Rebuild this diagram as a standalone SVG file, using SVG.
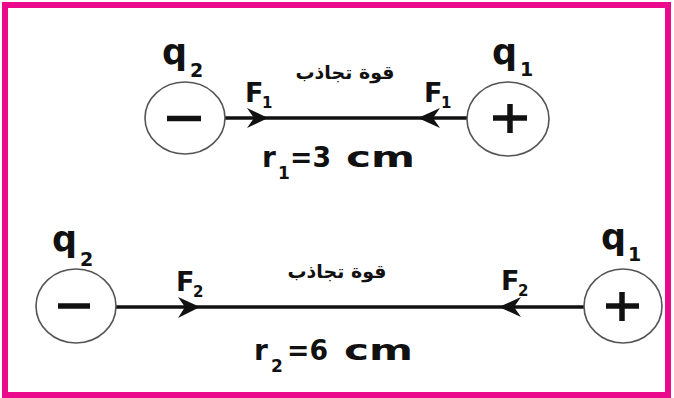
<svg xmlns="http://www.w3.org/2000/svg" width="674" height="398" viewBox="0 0 674 398">
<style>
.frame{fill:none;stroke:#ec0a8c;stroke-width:6}
.charge{fill:#fff;stroke:#555;stroke-width:1.6}
.sign{stroke:#111;stroke-width:5.5;stroke-linecap:butt}
.wire{stroke:#111;stroke-width:3.5}
.head{fill:#111}
.t{font-family:"DejaVu Sans","Liberation Sans",sans-serif;font-weight:bold;fill:#111}
.q{font-size:35px}
.qs{font-size:19px}
.f{font-size:27px}
.fs{font-size:15px}
.r{font-size:28px}
.rs{font-size:17px}
.ar{font-size:19px}
</style>
<rect class="frame" x="5" y="5" width="663" height="390"/>
<g id="connectors">
<line class="wire" x1="225" y1="118" x2="467" y2="118"/>
<path class="head" d="M268,118 L247,108 L254,118 L247,128 Z"/>
<path class="head" d="M418,118 L440,108 L433,118 L440,128 Z"/>
<line class="wire" x1="116" y1="307" x2="584" y2="307"/>
<path class="head" d="M200,307 L178,297 L185,307 L178,318 Z"/>
<path class="head" d="M499,307 L521,297 L514,307 L521,317 Z"/>
</g>
<g id="q2-top">
<ellipse class="charge" cx="185" cy="118" rx="40" ry="36"/>
<line class="sign" x1="167" y1="118.5" x2="201" y2="118.5"/>
<text class="t q" x="162" y="64">q</text>
<text class="t qs" x="190" y="77">2</text>
</g>
<g id="q1-top">
<ellipse class="charge" cx="508" cy="119" rx="41" ry="37"/>
<line class="sign" x1="493" y1="118" x2="527" y2="118"/>
<line class="sign" x1="510" y1="104" x2="510" y2="133"/>
<text class="t q" x="492" y="64">q</text>
<text class="t qs" x="520" y="76">1</text>
</g>
<g id="q2-bottom">
<ellipse class="charge" cx="76" cy="306" rx="40" ry="37"/>
<line class="sign" x1="58" y1="306" x2="90" y2="306"/>
<text class="t q" x="52" y="251">q</text>
<text class="t qs" x="80" y="266">2</text>
</g>
<g id="q1-bottom">
<ellipse class="charge" cx="623" cy="306" rx="39" ry="37"/>
<line class="sign" x1="606" y1="306" x2="639" y2="306"/>
<line class="sign" x1="622" y1="292" x2="622" y2="321"/>
<text class="t q" x="601" y="249">q</text>
<text class="t qs" x="628" y="261">1</text>
</g>
<g id="labels">
<text class="t f" x="245" y="102">F</text>
<text class="t fs" x="262" y="108">1</text>
<text class="t f" x="424" y="102">F</text>
<text class="t fs" x="441" y="108">1</text>
<text class="t f" x="176" y="291">F</text>
<text class="t fs" x="193" y="297">2</text>
<text class="t f" x="501" y="290">F</text>
<text class="t fs" x="518" y="296">2</text>
<text class="t ar" x="345" y="79" text-anchor="middle" direction="rtl">قوة تجاذب</text>
<text class="t ar" x="337" y="278" text-anchor="middle" direction="rtl">قوة تجاذب</text>
<text class="t r" x="262" y="167">r</text>
<text class="t rs" x="278" y="179">1</text>
<text class="t r" x="290" y="167" textLength="41" lengthAdjust="spacingAndGlyphs">=3</text>
<text class="t r" x="346" y="167" textLength="69" lengthAdjust="spacingAndGlyphs">cm</text>
<text class="t r" x="254" y="360">r</text>
<text class="t rs" x="271" y="372">2</text>
<text class="t r" x="287" y="360" textLength="41" lengthAdjust="spacingAndGlyphs">=6</text>
<text class="t r" x="344" y="360" textLength="69" lengthAdjust="spacingAndGlyphs">cm</text>
</g>
</svg>
